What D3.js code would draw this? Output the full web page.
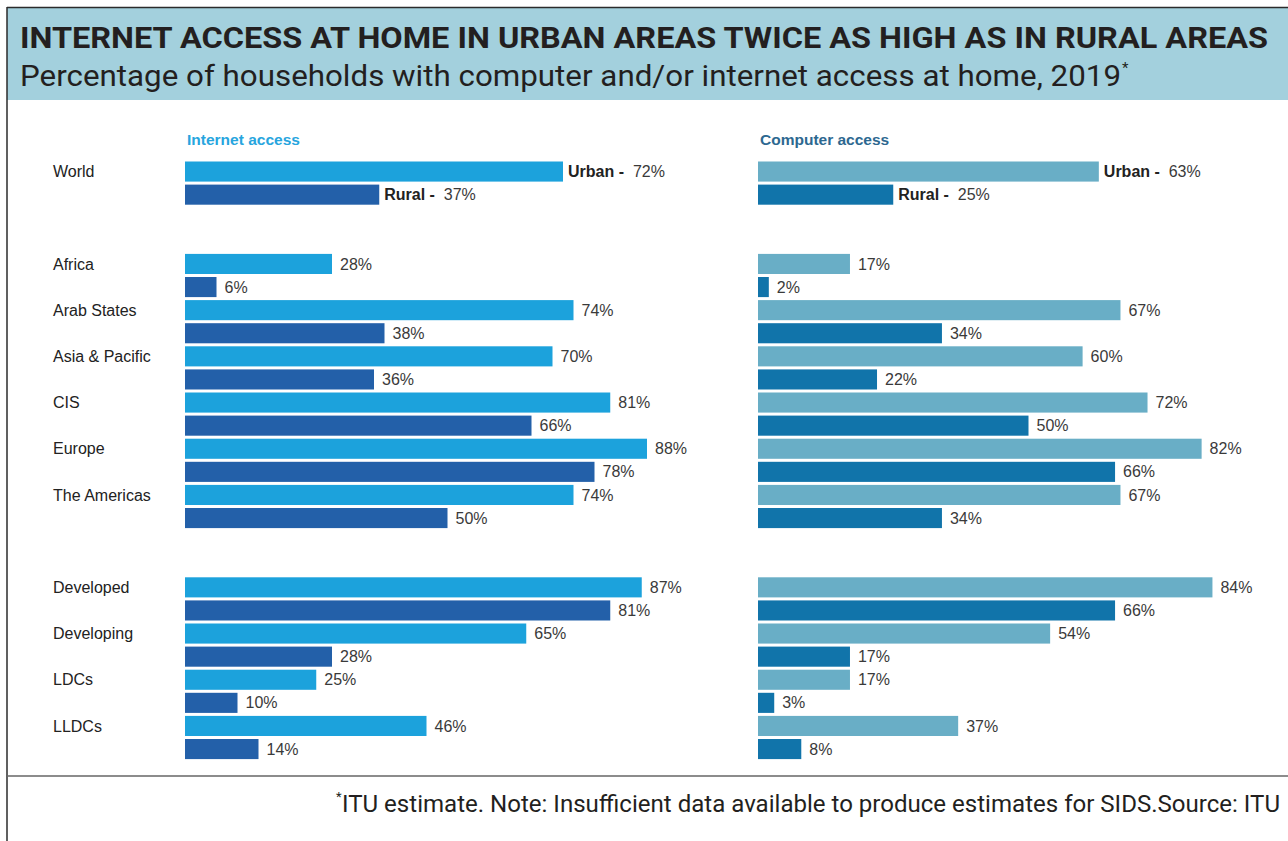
<!DOCTYPE html>
<html>
<head>
<meta charset="utf-8">
<script src="https://cdn.jsdelivr.net/npm/d3@7"></script>
<style>
  html, body { margin: 0; padding: 0; background: #fff; }
  svg { display: block; }
</style>
</head>
<body>
<svg id="chart" width="1288" height="841"></svg>
<script>
// Household access figures, 2019 (percent of households)
const categories = ["World", "Africa", "Arab States", "Asia & Pacific", "CIS", "Europe",
  "The Americas", "Developed", "Developing", "LDCs", "LLDCs"];
// categories that start a new block (a blank gap is left before them)
const blockStarts = ["Africa", "Developed"];
const internetUrban = [72, 28, 74, 70, 81, 88, 74, 87, 65, 25, 46];
const internetRural = [37, 6, 38, 36, 66, 78, 50, 81, 28, 10, 14];
const computerUrban = [63, 17, 67, 60, 72, 82, 67, 84, 54, 17, 37];
const computerRural = [25, 2, 34, 22, 50, 66, 34, 66, 17, 3, 8];

const titleText = "INTERNET ACCESS AT HOME IN URBAN AREAS TWICE AS HIGH AS IN RURAL AREAS";
const subtitleText = "Percentage of households with computer and/or internet access at home, 2019";
const footnoteText = "ITU estimate. Note: Insufficient data available to produce estimates for SIDS.Source: ITU";

const svg = d3.select("#chart");
const W = 1288, H = 841;
const labelFont = "'Liberation Sans', Arial, Helvetica, sans-serif";
const headFont = "Roboto, 'Noto Sans', sans-serif";

svg.append("rect").attr("width", W).attr("height", H).attr("fill", "#fff");

// header band
svg.append("rect").attr("x", 7).attr("y", 8).attr("width", W - 7).attr("height", 92)
  .attr("fill", "#a3d0dd");
svg.append("line").attr("x1", 7).attr("x2", W).attr("y1", 7.5).attr("y2", 7.5)
  .attr("stroke", "#2b2b2b").attr("stroke-width", 1.5);
svg.append("line").attr("x1", 7).attr("x2", 7).attr("y1", 7).attr("y2", H)
  .attr("stroke", "#2b2b2b").attr("stroke-width", 1.5);
svg.append("line").attr("x1", 7).attr("x2", W).attr("y1", 776).attr("y2", 776)
  .attr("stroke", "#666").attr("stroke-width", 1.5);

svg.append("text").attr("x", 20).attr("y", 48)
  .attr("font-family", headFont).attr("font-weight", 700).attr("font-size", 29.5)
  .attr("fill", "#231f20")
  .attr("textLength", 1248).attr("lengthAdjust", "spacingAndGlyphs")
  .text(titleText);
svg.append("text").attr("x", 20).attr("y", 86)
  .attr("font-family", headFont).attr("font-weight", 400).attr("font-size", 29.5)
  .attr("fill", "#231f20")
  .attr("textLength", 1101).attr("lengthAdjust", "spacingAndGlyphs")
  .text(subtitleText);
svg.append("text").attr("x", 1122).attr("y", 73)
  .attr("font-family", headFont).attr("font-size", 15).attr("fill", "#231f20")
  .text("*");

// footnote
svg.append("text").attr("x", 336).attr("y", 801)
  .attr("font-family", headFont).attr("font-size", 13).attr("fill", "#231f20")
  .text("*");
svg.append("text").attr("x", 342).attr("y", 812)
  .attr("font-family", headFont).attr("font-size", 23.5).attr("fill", "#231f20")
  .attr("textLength", 938).attr("lengthAdjust", "spacingAndGlyphs")
  .text(footnoteText);

// row layout: two bars per category, two blank slots before each new block
const rows = [];
categories.forEach(c => {
  if (blockStarts.includes(c)) { rows.push("gap-a-" + c, "gap-b-" + c); }
  rows.push(c + "|urban", c + "|rural");
});

const y = d3.scaleBand().domain(rows).range([160, 760.6])
  .paddingInner(0.13).paddingOuter(0.065);

const panels = [
  { heading: "Internet access", headColor: "#27a5de", x0: 185, width: 525,
    urban: internetUrban, rural: internetRural, urbanColor: "#1ca2dc", ruralColor: "#2360a9" },
  { heading: "Computer access", headColor: "#2d6890", x0: 758, width: 541,
    urban: computerUrban, rural: computerRural, urbanColor: "#69aec6", ruralColor: "#1174aa" }
];

// category labels
svg.append("g").selectAll("text").data(categories).join("text")
  .attr("x", 53)
  .attr("y", d => y(d + "|urban") + y.bandwidth() / 2)
  .attr("dy", "0.35em")
  .attr("font-family", labelFont).attr("font-size", 16).attr("fill", "#222")
  .text(d => d);

panels.forEach(p => {
  const x = d3.scaleLinear().domain([0, 100]).range([p.x0, p.x0 + p.width]);
  const g = svg.append("g");

  g.append("text").attr("x", p.x0 + 2).attr("y", 140).attr("dy", "0.35em")
    .attr("font-family", labelFont).attr("font-weight", 700).attr("font-size", 15.5)
    .attr("fill", p.headColor).text(p.heading);

  const bars = [];
  categories.forEach((c, i) => {
    bars.push({ cat: c, kind: "urban", value: p.urban[i], color: p.urbanColor, first: i === 0 });
    bars.push({ cat: c, kind: "rural", value: p.rural[i], color: p.ruralColor, first: i === 0 });
  });

  g.selectAll("rect.bar").data(bars).join("rect")
    .attr("class", "bar")
    .attr("x", x(0))
    .attr("y", d => y(d.cat + "|" + d.kind))
    .attr("width", d => x(d.value) - x(0))
    .attr("height", y.bandwidth())
    .attr("fill", d => d.color);

  const labels = g.selectAll("text.val").data(bars).join("text")
    .attr("class", "val")
    .attr("x", d => x(d.value) + (d.first ? 5 : 8))
    .attr("y", d => y(d.cat + "|" + d.kind) + y.bandwidth() / 2)
    .attr("dy", "0.35em")
    .style("white-space", "pre")
    .attr("font-family", labelFont).attr("font-size", 16).attr("fill", "#3a3a3a");

  labels.each(function (d) {
    const t = d3.select(this);
    if (d.first) {
      t.append("tspan").attr("font-weight", 700).attr("fill", "#222")
        .text(d.kind === "urban" ? "Urban -" : "Rural -");
      t.append("tspan").text("  " + d.value + "%");
    } else {
      t.text(d.value + "%");
    }
  });
});
</script>
</body>
</html>
